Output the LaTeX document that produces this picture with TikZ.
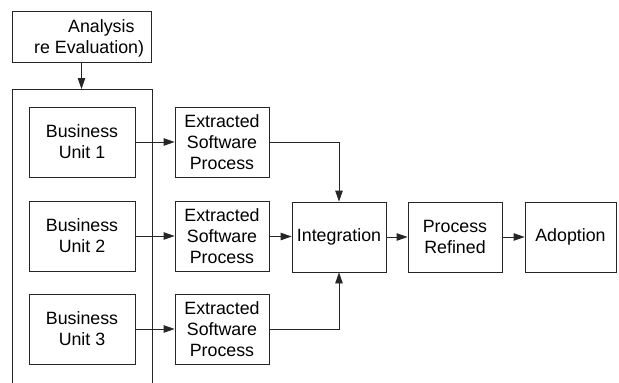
\documentclass[tikz,border=0pt]{standalone}
\usepackage{fontspec}
\setmainfont{Liberation Sans}
\usetikzlibrary{arrows.meta}
\begin{document}
\begin{tikzpicture}[x=1pt,y=-1pt,
  box/.style={draw=black!85,line width=0.8pt,inner sep=0pt,align=center,
    font=\fontsize{17.8}{21}\selectfont},
  lbl/.style={inner sep=0pt,font=\fontsize{17.8}{21}\selectfont},
  conn/.style={draw=black!85,line width=0.8pt,-{Triangle[length=11pt,width=7.5pt]}},
  plain/.style={draw=black!85,line width=0.8pt}]
\useasboundingbox (0,0) rectangle (619,383);
% top box
\node[box,minimum width=139pt,minimum height=51pt] (top) at (81.5,36.5) {};
\node[lbl,anchor=base west] (t1) at (68,32) {Analysis};
\node[lbl,anchor=base west] (t2) at (34,53) {re Evaluation)};
% container
\coordinate (ctl) at (12,89);
\coordinate (ctr) at (152,89);
\coordinate (cbl) at (12,383);
\coordinate (cbr) at (152,383);
\coordinate (ctop) at (81.5,89);
\draw[plain] (cbl) -- (ctl) -- (ctr) -- (cbr);
\draw[conn] (top.south) -- (ctop);
% business units
\node[box,minimum width=106pt,minimum height=70pt] (b1) at (82,142) {Business\\Unit 1};
\node[box,minimum width=106pt,minimum height=70pt] (b2) at (82,236) {Business\\Unit 2};
\node[box,minimum width=106pt,minimum height=70pt] (b3) at (82,329) {Business\\Unit 3};
% extracted
\node[box,minimum width=94pt,minimum height=70pt] (e1) at (222,142) {Extracted\\Software\\Process};
\node[box,minimum width=94pt,minimum height=70pt] (e2) at (222,236.5) {Extracted\\Software\\Process};
\node[box,minimum width=94pt,minimum height=70pt] (e3) at (222,329.5) {Extracted\\Software\\Process};
% chain
\node[box,minimum width=94pt,minimum height=70pt] (int) at (339,237) {Integration};
\node[box,minimum width=94pt,minimum height=70pt] (pr) at (455,237) {Process\\Refined};
\node[box,minimum width=91pt,minimum height=70pt] (ad) at (570.5,237) {Adoption};
% connectors
\draw[conn] (b1.east) -- (e1.west);
\draw[conn] (b2.east) -- (b2.east -| e2.west);
\draw[conn] (b3.east) -- (b3.east -| e3.west);
\draw[conn] (e1.east) -| (int.north);
\draw[conn] (e2.east) -- (e2.east -| int.west);
\draw[conn] (e3.east) -| (int.south);
\draw[conn] (int.east) -- (pr.west);
\draw[conn] (pr.east) -- (ad.west);
\end{tikzpicture}
\end{document}
